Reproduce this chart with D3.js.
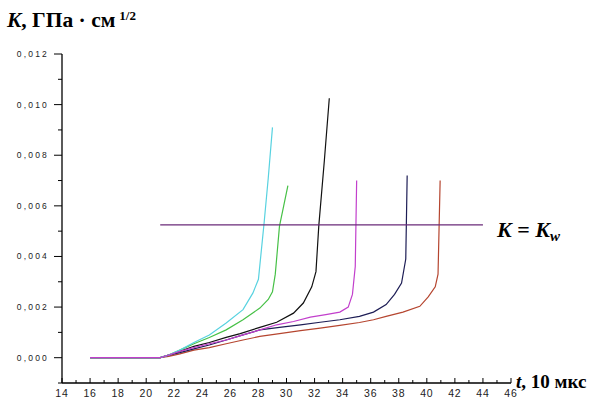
<!DOCTYPE html>
<html><head><meta charset="utf-8">
<script src="https://cdn.jsdelivr.net/npm/d3@7"></script>
<style>body{margin:0;background:#fff}svg{display:block}</style>
</head><body>
<svg id="c" width="613" height="406"></svg>
<script>
// Data (t in units of 10 µs, K in GPa·cm^1/2)
const cyanT  = [16,19,21,21.6,22.4,23.4,24.5,25.7,26.9,27.6,28.0,28.4,28.7,29.0];
const cyanK  = [0,0,0,0.0001,0.0003,0.0006,0.0009,0.00137,0.0019,0.00255,0.0031,0.0053,0.0071,0.0091];
const greenT = [16,19,21,21.6,22.4,23.4,24.5,25.7,26.9,28.1,28.7,29.0,29.2,29.5,29.8,30.1];
const greenK = [0,0,0,0.0001,0.0003,0.00055,0.0008,0.0011,0.0015,0.00196,0.0023,0.0026,0.0033,0.0052,0.006,0.0068];
const blackT = [16,19,21,21.6,22.4,23.4,24.5,25.7,26.7,28.1,29.3,30.5,31.2,31.8,32.1,32.3,32.7,33.05];
const blackK = [0,0,0,0.0001,0.00025,0.00045,0.0006,0.0008,0.00095,0.0012,0.0014,0.00176,0.00216,0.0028,0.0034,0.0052,0.0078,0.01025];
const magT   = [16,19,21,21.6,22.4,23.4,24.5,25.7,26.9,28.1,29.3,30.5,31.7,32.8,33.8,34.4,34.7,34.9,35.0];
const magK   = [0,0,0,0.0001,0.00025,0.0004,0.00055,0.0007,0.0009,0.0011,0.0013,0.00143,0.0016,0.0017,0.0018,0.002,0.0025,0.0036,0.007];
const navyT  = [16,19,21,21.6,22.4,23.4,24.5,25.7,26.9,28.1,29.5,31,32.4,33.8,35.2,36.2,37.1,37.7,38.2,38.5,38.6];
const navyK  = [0,0,0,0.0001,0.0002,0.00035,0.0005,0.0007,0.0009,0.0011,0.0012,0.0013,0.0014,0.0015,0.00163,0.0018,0.0021,0.0025,0.00295,0.0039,0.0072];
const redT   = [16,19,21,21.6,22.4,23.4,24.5,25.7,26.9,28.1,29.5,31,32.4,33.8,35.2,36.2,37.1,38.3,39.5,40.1,40.6,40.8,40.95];
const redK   = [0,0,0,0.00005,0.00015,0.0003,0.0004,0.00055,0.0007,0.00084,0.00095,0.00107,0.00117,0.00128,0.00139,0.0015,0.00163,0.0018,0.00203,0.0024,0.0028,0.0033,0.007];
const kwT = [21, 44];
const kwK = [0.00525, 0.00525];
const xTicks = [14,16,18,20,22,24,26,28,30,32,34,36,38,40,42,44,46];
const yTicks = [0,0.002,0.004,0.006,0.008,0.010,0.012];

const svg = d3.select("#c");
const x = d3.scaleLinear().domain([14,46]).range([62,511]);
const y = d3.scaleLinear().domain([-0.001,0.012]).range([383,54]);

const fmtY = v => d3.format(".3f")(v).replace(".", ",");

// Y axis
const ya = svg.append("g").attr("transform","translate(62,0)");
ya.append("line").attr("x1",0).attr("x2",0).attr("y1",y(0.012)).attr("y2",y(-0.001)).attr("stroke","#000").attr("stroke-width",1.3);
ya.selectAll("line.maj").data(yTicks).join("line").attr("class","maj")
  .attr("x1",-8).attr("x2",0).attr("y1",d=>y(d)).attr("y2",d=>y(d)).attr("stroke","#000");
ya.selectAll("line.min").data(d3.range(-0.001,0.0115,0.002)).join("line").attr("class","min")
  .attr("x1",-4).attr("x2",0).attr("y1",d=>y(d)).attr("y2",d=>y(d)).attr("stroke","#000");
ya.selectAll("text").data(yTicks).join("text")
  .attr("x",-13).attr("y",d=>y(d)+3).attr("text-anchor","end")
  .attr("font-family","Liberation Sans, Arial, sans-serif").attr("font-size",8.5)
  .attr("letter-spacing",2.2).attr("fill","#222").text(fmtY);

// X axis
const xa = svg.append("g").attr("transform","translate(0,383)");
xa.append("line").attr("x1",62).attr("x2",511).attr("y1",0).attr("y2",0).attr("stroke","#000").attr("stroke-width",1.3);
xa.selectAll("line.maj").data(xTicks).join("line").attr("class","maj")
  .attr("x1",d=>x(d)).attr("x2",d=>x(d)).attr("y1",-5).attr("y2",0).attr("stroke","#000");
xa.selectAll("line.min").data(d3.range(15,46,2)).join("line").attr("class","min")
  .attr("x1",d=>x(d)).attr("x2",d=>x(d)).attr("y1",-3).attr("y2",0).attr("stroke","#000");
xa.selectAll("text").data(xTicks).join("text")
  .attr("x",d=>x(d)).attr("y",14).attr("text-anchor","middle")
  .attr("font-family","Liberation Sans, Arial, sans-serif").attr("font-size",10.5)
  .attr("letter-spacing",0.8).attr("fill","#222").text(d=>d);

// Curves
const line = d3.line().x(d=>x(d[0])).y(d=>y(d[1]));
const series = [
  {t:redT, k:redK, c:"#b5452f"},
  {t:navyT, k:navyK, c:"#1d1d55"},
  {t:blackT, k:blackK, c:"#111111"},
  {t:greenT, k:greenK, c:"#46c046"},
  {t:cyanT, k:cyanK, c:"#58d2e0"},
  {t:magT, k:magK, c:"#c23fcc"}
];
series.forEach(s=>{
  svg.append("path").datum(d3.zip(s.t,s.k)).attr("d",line)
    .attr("fill","none").attr("stroke",s.c).attr("stroke-width",1.2);
});
svg.append("path").datum(d3.zip(kwT,kwK)).attr("d",line)
  .attr("fill","none").attr("stroke","#6a2a78").attr("stroke-width",1.4);

// Labels
const serif = "Liberation Serif, Times New Roman, serif";
const t1 = svg.append("text").attr("x",7).attr("y",27).attr("font-family",serif).attr("font-weight","bold").attr("font-size",21.5);
t1.append("tspan").attr("font-style","italic").text("K");
t1.append("tspan").text(", ГПа · см");
t1.append("tspan").attr("font-size",13).attr("dx",4).attr("dy",-7).text("1/2");

const t2 = svg.append("text").attr("x",497).attr("y",237).attr("font-family",serif).attr("font-weight","bold").attr("font-size",22);
t2.append("tspan").attr("font-style","italic").text("K");
t2.append("tspan").text(" = ");
t2.append("tspan").attr("font-style","italic").text("K");
t2.append("tspan").attr("font-style","italic").attr("font-size",15).attr("dy",4).text("w");

const t3 = svg.append("text").attr("x",516).attr("y",388).attr("font-family",serif).attr("font-weight","bold").attr("font-size",19);
t3.append("tspan").attr("font-style","italic").text("t");
t3.append("tspan").text(", 10 мкс");
</script>
</body></html>
